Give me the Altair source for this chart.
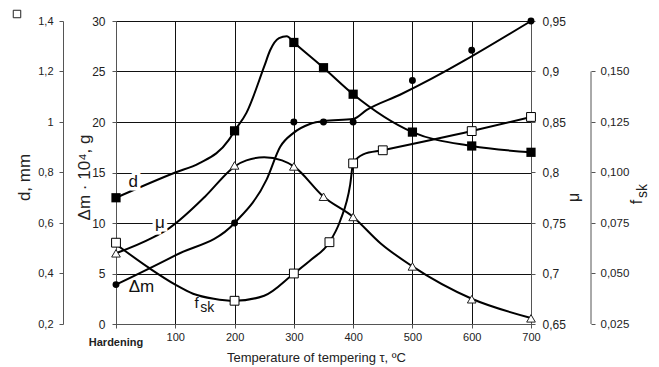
import altair as alt
import pandas as pd

# ---------------- data ----------------
# tempering temperature, deg C (0 = as-hardened)
x_ticks = [0, 100, 200, 300, 400, 500, 600, 700]

# d, mm  (filled squares)
d_T = [0, 200, 300, 350, 400, 500, 600, 700]
d_mm = [0.700, 0.965, 1.315, 1.215, 1.110, 0.960, 0.905, 0.880]
d_curve_T = [0, 100, 140, 190, 200, 220, 250, 260, 275, 288, 300, 350, 400, 500, 600, 700]
d_curve = [0.700, 0.800, 0.836, 0.928, 0.965, 1.036, 1.220, 1.284, 1.332, 1.340, 1.315,
           1.215, 1.110, 0.960, 0.905, 0.880]
d_ticks = [0.2, 0.4, 0.6, 0.8, 1.0, 1.2, 1.4]

# delta m * 10^4, g  (filled circles)
dm_T = [0, 200, 300, 350, 400, 500, 600, 700]
dm_g = [3.9, 10.0, 20.0, 20.0, 20.0, 24.1, 27.1, 30.0]
dm_curve_T = [0, 100, 200, 254, 277, 299, 327, 350, 400, 423, 479, 700]
dm_curve = [3.9, 6.8, 10.0, 14.3, 17.55, 18.9, 19.8, 20.1, 20.3, 21.2, 22.7, 30.0]
dm_ticks = [0, 5, 10, 15, 20, 25, 30]

# mu  (open triangles)
mu_T = [0, 200, 300, 350, 400, 500, 600, 700]
mu_vals = [0.720, 0.807, 0.806, 0.776, 0.756, 0.707, 0.6745, 0.6556]
mu_curve_T = [0, 60, 90, 150, 192, 200, 220, 250, 280, 300, 350, 400, 446, 500, 600, 700]
mu_curve = [0.720, 0.735, 0.745, 0.776, 0.802, 0.806, 0.812, 0.815, 0.812, 0.806, 0.776,
            0.756, 0.730, 0.707, 0.675, 0.656]
mu_ticks = [0.65, 0.7, 0.75, 0.8, 0.85, 0.9, 0.95]

# f_sk  (open squares)
fsk_T = [0, 200, 300, 360, 400, 450, 600, 700]
fsk_vals = [0.06525, 0.0365, 0.050, 0.0655, 0.1045, 0.111, 0.1205, 0.1275]
fsk_curve_T = [0, 57, 100, 130, 165, 200, 250, 300, 330, 360, 378, 395, 400, 417, 450, 600, 700]
fsk_curve = [0.0645, 0.0525, 0.0445, 0.040, 0.0375, 0.0365, 0.039, 0.050, 0.057, 0.0655,
             0.076, 0.094, 0.1045, 0.109, 0.111, 0.1205, 0.1275]
fsk_ticks = [0.025, 0.05, 0.075, 0.1, 0.125, 0.15]

# in-plot curve labels (anchored in delta-m units)
lab_text = ["d", "μ", "Δm", "f", "sk"]
lab_T = [29, 74, 43, 136, 154]
lab_v = [14.1, 10.0, 3.7, 2.1, 1.6]

hard_text = ["Hardening"]
hard_T = [0]
hard_v = [-1.9]

# ---------------- chart ----------------
FONT = "Liberation Sans"
W, H = 415, 303
TXT = "#222"
AX = "#555"

x_axis = alt.Axis(
    values=x_ticks, grid=True, gridColor="#111", gridOpacity=1,
    labelExpr="datum.value == 0 ? '' : datum.label", labelFlush=False,
    labelFontSize=11, labelPadding=3, labelColor=TXT, tickSize=4, tickColor=AX,
    domainColor=AX, title="Temperature of tempering  τ, ºC", titleFontSize=13,
    titleFontWeight="normal", titleColor=TXT, titleX=200, titleY=37,
    titleBaseline="alphabetic", titleAlign="center",
)
X = alt.X("T:Q", scale=alt.Scale(domain=[0, 700], nice=False, zero=False), axis=x_axis)

def yaxis(**kw):
    base = dict(labelColor=TXT, tickColor=AX, domainColor=AX, tickSize=4,
                titleColor=TXT, titleFontWeight="normal", titleAngle=270,
                titleAlign="center", titleBaseline="middle", grid=False)
    base.update(kw)
    return alt.Axis(**base)

dm_scale = alt.Scale(domain=[0, 30], nice=False, zero=False)
d_scale = alt.Scale(domain=[0.2, 1.4], nice=False, zero=False)
mu_scale = alt.Scale(domain=[0.65, 0.95], nice=False, zero=False)
fsk_scale = alt.Scale(domain=[0.025, 0.175], nice=False, zero=False)

dm_axis = yaxis(orient="left", values=dm_ticks, grid=True, gridColor="#111", gridOpacity=1,
                labelFontSize=12, labelPadding=7, title="Δm · 10⁴, g", titleFontSize=17,
                titleX=-32, titleY=156)
d_axis = yaxis(orient="left", offset=53, values=d_ticks,
               labelExpr="replace(format(datum.value, '~g'), '.', ',')",
               labelFontSize=11, labelPadding=6, title="d, mm", titleFontSize=17,
               titleX=-39, titleY=156)
mu_axis = yaxis(orient="right", values=mu_ticks,
                labelExpr="replace(format(datum.value, '~g'), '.', ',')",
                labelFontSize=12, labelPadding=7, title="μ", titleFontSize=16,
                titleX=42, titleY=176)
fsk_axis = yaxis(orient="right", offset=60, values=fsk_ticks, domain=False,
                 labelExpr="replace(format(datum.value, '.3f'), '.', ',')",
                 labelFontSize=11.5, labelPadding=5, title=None)


def group(curve_T, curve_v, pts_T, pts_v, scale, axis, point_kw, extra=None):
    y = alt.Y("v:Q", scale=scale, axis=axis)
    line = alt.Chart(pd.DataFrame({"T": curve_T, "v": curve_v})).mark_line(
        interpolate="monotone", color="black", strokeWidth=2
    ).encode(x=X, y=y)
    pts = alt.Chart(pd.DataFrame({"T": pts_T, "v": pts_v})).mark_point(
        opacity=1, **point_kw
    ).encode(x=X, y=y)
    layers = [line, pts] + (extra or [])
    return alt.layer(*layers)


dm_group = group(dm_curve_T, dm_curve, dm_T, dm_g, dm_scale, dm_axis,
                 dict(shape="circle", filled=True, color="black", size=48))
d_group = group(d_curve_T, d_curve, d_T, d_mm, d_scale, d_axis,
                dict(shape="square", filled=True, color="black", size=85))
mu_group = group(mu_curve_T, mu_curve, mu_T, mu_vals, mu_scale, mu_axis,
                 dict(shape="triangle-up", filled=True, fill="white", stroke="#222",
                      strokeWidth=1, size=75))

fsk_rule = alt.Chart(pd.DataFrame({"lo": [fsk_ticks[0]], "hi": [fsk_ticks[-1]]})).mark_rule(
    color=AX, strokeWidth=1
).encode(x=alt.value(475), y=alt.Y("lo:Q", scale=fsk_scale, axis=fsk_axis), y2="hi:Q")
fsk_group = group(fsk_curve_T, fsk_curve, fsk_T, fsk_vals, fsk_scale, fsk_axis,
                  dict(shape="square", filled=True, fill="white", stroke="black",
                       strokeWidth=1, size=78), extra=[fsk_rule])

# annotations (same delta-m scale, no axis)
lab_df = pd.DataFrame({"t": lab_text, "T": lab_T, "v": lab_v})
Ya = alt.Y("v:Q", scale=dm_scale, axis=None)
Xa = alt.X("T:Q", scale=alt.Scale(domain=[0, 700], nice=False, zero=False), axis=x_axis)

big = lab_df[lab_df.t.isin(["d", "μ", "Δm"])]
halo = alt.Chart(lab_df[lab_df.t.isin(["d", "μ"])]).mark_text(
    font=FONT, fontSize=17, stroke="white", strokeWidth=7, align="center", baseline="middle"
).encode(x=Xa, y=Ya, text="t:N")
big_txt = alt.Chart(big).mark_text(
    font=FONT, fontSize=17, color="#111", align="center", baseline="middle"
).encode(x=Xa, y=Ya, text="t:N")
f_txt = alt.Chart(lab_df[lab_df.t == "f"]).mark_text(
    font=FONT, fontSize=15, color="#111", align="center", baseline="middle"
).encode(x=Xa, y=Ya, text="t:N")
sk_txt = alt.Chart(lab_df[lab_df.t == "sk"]).mark_text(
    font=FONT, fontSize=14, color="#111", align="center", baseline="middle"
).encode(x=Xa, y=Ya, text="t:N")
hard = alt.Chart(pd.DataFrame({"t": hard_text, "T": hard_T, "v": hard_v})).mark_text(
    font=FONT, fontSize=11, fontWeight="bold", color=TXT, align="center", baseline="middle"
).encode(x=Xa, y=Ya, text="t:N")

# rotated f_sk axis title and the small corner square
one = pd.DataFrame({"a": [0]})
fsk_f = alt.Chart(one).mark_text(
    text="f", font=FONT, fontSize=16, angle=270, color=TXT, align="center", baseline="middle"
).encode(x=alt.value(521), y=alt.value(181))
fsk_sk = alt.Chart(one).mark_text(
    text="sk", font=FONT, fontSize=14, angle=270, color=TXT, align="center", baseline="middle"
).encode(x=alt.value(527), y=alt.value(170))
corner = alt.Chart(one).mark_point(
    shape="square", filled=False, stroke="#222", strokeWidth=1, size=56, opacity=1
).encode(x=alt.value(-99), y=alt.value(-7))

ann_group = alt.layer(halo, big_txt, f_txt, sk_txt, hard, fsk_f, fsk_sk, corner)

chart = alt.layer(dm_group, d_group, mu_group, fsk_group, ann_group).resolve_scale(
    y="independent"
).resolve_axis(y="independent").properties(
    width=W, height=H,
    autosize=alt.AutoSizeParams(type="none"),
    padding={"left": 108, "top": 13, "right": 120, "bottom": 43},
).configure(font=FONT).configure_view(stroke=None).configure_axis(
    labelFont=FONT, titleFont=FONT
)

chart.save("out.html", embed_options={"renderer": "svg", "actions": False})
